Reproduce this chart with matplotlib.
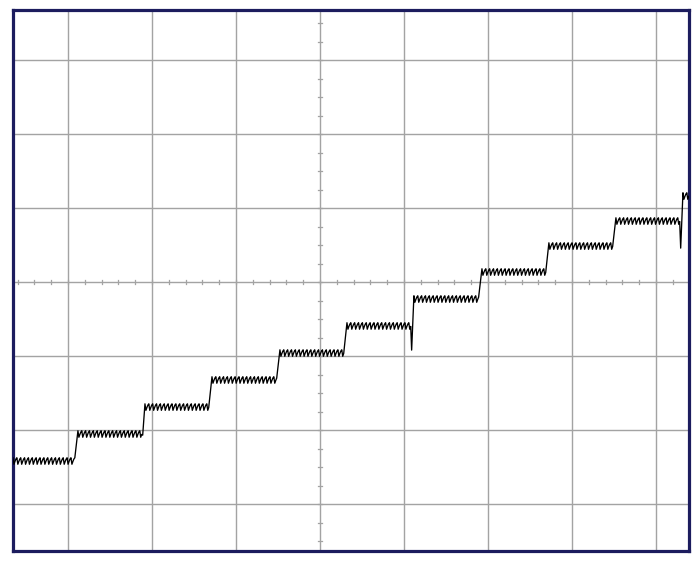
import numpy as np
import matplotlib
matplotlib.use("Agg")
import matplotlib.pyplot as plt

# staircase, in divisions (x: time, y: volts/div)
step_edges = [-2.917, -2.119, -1.321, -0.512, 0.286, 1.083, 1.893, 2.690, 3.488, 4.286]
step_levels = [-2.405, -2.040, -1.676, -1.310, -0.946, -0.580, -0.216, 0.149, 0.500, 0.838, 1.176]
edge_spikes = [0.0, 0.03, 0.0, 0.0, 0.0, 0.34, 0.0, 0.0, 0.0, 0.38]
# one period of the ripple riding on each step
ripple_shape = [0.030, -0.058, -0.020, 0.012]
ripple_period = 0.046

x_lo, x_hi = -3.655, 4.393
y_lo, y_hi = -3.635, 3.676

# build the trace
t_all, v_all = [], []
starts = [x_lo] + [e + 0.035 for e in step_edges]
ends = step_edges + [x_hi]
dt = ripple_period / len(ripple_shape)
for i, (a, b) in enumerate(zip(starts, ends)):
    tt = np.arange(a, b, dt)
    rip = np.resize(ripple_shape, len(tt))
    t_all.extend(tt)
    v_all.extend(step_levels[i] + rip)
    if i < len(step_edges) and edge_spikes[i] > 0:
        t_all.append(step_edges[i] + 0.008)
        v_all.append(step_levels[i] - edge_spikes[i])

fig = plt.figure(figsize=(7, 5.61), dpi=100)
ax = fig.add_axes([13 / 700, 10 / 561, 676 / 700, 541 / 561])

grid_col = "#a3a3a3"
for gx in range(-3, 5):
    ax.axvline(gx, color=grid_col, lw=1.0, zorder=1)
for gy in range(-3, 4):
    ax.axhline(gy, color=grid_col, lw=1.0, zorder=1)

# minor ticks on the centre cross
for mx in np.arange(-3.6, 4.4, 0.2):
    ax.plot([mx, mx], [-0.03, 0.03], color=grid_col, lw=0.9, zorder=1)
for my in np.arange(-3.5, 3.7, 0.25):
    ax.plot([-0.025, 0.025], [my, my], color=grid_col, lw=0.9, zorder=1)

ax.plot(t_all, v_all, color="black", lw=0.95, zorder=3)

ax.set_xlim(x_lo, x_hi)
ax.set_ylim(y_lo, y_hi)
ax.set_xticks([])
ax.set_yticks([])
for sp in ax.spines.values():
    sp.set_color("#1c1c5e")
    sp.set_linewidth(2.3)

fig.savefig("out.png", dpi=100, facecolor="white")
